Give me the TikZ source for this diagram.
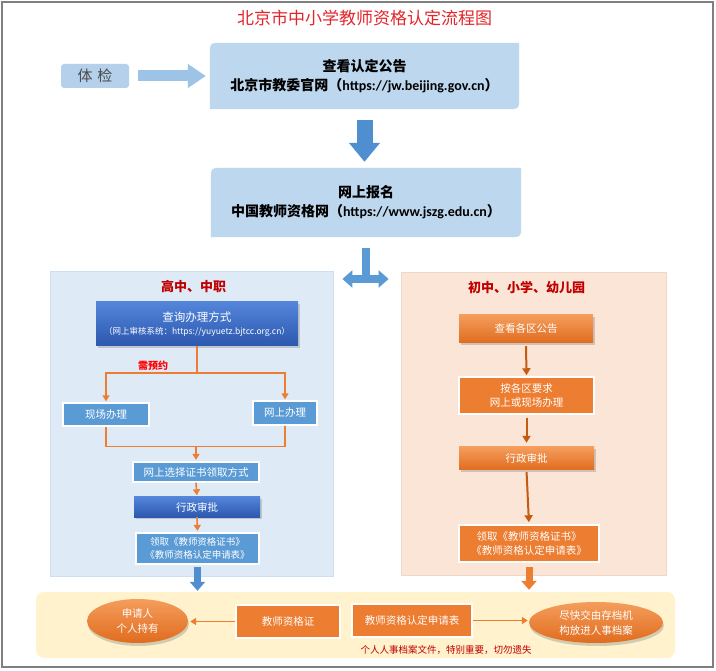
\documentclass[tikz,border=0pt]{standalone}
\usepackage{fontspec}
\setmainfont{Noto Sans CJK SC}
\newfontfamily\latinb{Carlito}
\usetikzlibrary{arrows.meta,shadows,shapes.geometric}
\definecolor{topfill}{HTML}{BDD7EE}
\definecolor{tjfill}{HTML}{B4D0EB}
\definecolor{lightarrow}{HTML}{9DC3E6}
\definecolor{midblue}{HTML}{5B9BD5}
\definecolor{arrowblue}{HTML}{4F8FD0}
\definecolor{darkblueA}{HTML}{5385DA}
\definecolor{darkblueB}{HTML}{2C58AE}
\definecolor{lpfill}{HTML}{DEEBF7}
\definecolor{lpline}{HTML}{CFDFF0}
\definecolor{rpfill}{HTML}{FBE5D6}
\definecolor{rpline}{HTML}{F0D8C8}
\definecolor{oran}{HTML}{ED7D31}
\definecolor{oranA}{HTML}{F59D5C}
\definecolor{oranB}{HTML}{E06C1E}
\definecolor{darkoran}{HTML}{C55A11}
\definecolor{bandfill}{HTML}{FFF2CC}
\definecolor{titlered}{HTML}{E3242B}
\definecolor{darkred}{HTML}{C00000}
\definecolor{framegray}{HTML}{7F7F7F}
\pgfdeclarelayer{bg}
\pgfsetlayers{bg,main}
\tikzset{
  every node/.style={inner sep=0pt, align=center},
  hdr/.style={font=\fontsize{17}{20}\selectfont, text=titlered},
  topbox/.style={font=\bfseries\fontsize{14}{19}\selectfont, text=black},
  tjbox/.style={fill=tjfill, rounded corners=3pt, text=black!70, font=\fontsize{15}{18}\selectfont},
  bigarrow/.style={line width=11pt, draw=lightarrow, -{Triangle[width=23pt,length=18pt]}},
  downarrow/.style={line width=16pt, draw=arrowblue, -{Triangle[width=30pt,length=19pt]}},
  lpanel/.style={fill=lpfill, draw=lpline, line width=0.8pt},
  rpanel/.style={fill=rpfill, draw=rpline, line width=0.8pt},
  ptitle/.style={font=\bfseries\fontsize{13}{15}\selectfont, text=darkred},
  shad/.style={drop shadow={shadow xshift=1.5pt, shadow yshift=-2pt, opacity=.35}},
  dbox/.style={top color=darkblueA, bottom color=darkblueB, text=white, shad, font=\fontsize{10.5}{13}\selectfont},
  mbox/.style={fill=midblue, draw=white, line width=1.3pt, text=white, font=\fontsize{10.5}{13}\selectfont},
  obox/.style={top color=oranA, bottom color=oranB, text=white, shad, font=\fontsize{10.5}{13}\selectfont},
  fbox/.style={fill=oran, draw=white, line width=1.5pt, text=white, font=\fontsize{10.5}{14}\selectfont},
  oline/.style={draw=oran, line width=1.6pt},
  oarrow/.style={oline, -{Triangle[width=7pt,length=6pt]}},
  darrow/.style={draw=darkoran, line width=2pt, -{Triangle[width=8pt,length=7pt]}},
  blockb/.style={draw=arrowblue, line width=7pt, -{Triangle[width=15pt,length=9pt]}},
  blocko/.style={draw=oran, line width=7pt, -{Triangle[width=15pt,length=9pt]}},
  ell/.style={ellipse, top color=oranA, bottom color=oranB, text=white, font=\fontsize{10.5}{15}\selectfont,
    drop shadow={shadow xshift=1pt, shadow yshift=-3pt, opacity=.35}},
  notetext/.style={text=darkred, font=\fontsize{9.5}{12}\selectfont},
  redtext/.style={text=red, font=\bfseries\fontsize{10}{12}\selectfont},
}
\begin{document}
\begin{tikzpicture}[x=1pt,y=-1pt]
\useasboundingbox (0,0) rectangle (716,671);
\begin{pgfonlayer}{bg}
\fill[white] (0,0) rectangle (716,671);
\end{pgfonlayer}
\draw[framegray, line width=2pt] (2,2) rectangle (713,667);

\node[hdr] (title) at (364.5,18) {北京市中小学教师资格认定流程图};

% ---- top part
\node[tjbox, minimum width=68pt, minimum height=24pt] (tj) at (95,76) {体\hspace{5pt}检};
\node[topbox, minimum width=309pt, minimum height=66pt] (b1) at (364.5,76)
  {查看认定公告\\北京市教委官网（{\latinb https://jw.beijing.gov.cn}）};
\node[topbox, minimum width=310pt, minimum height=69pt] (b2) at (366,202.5)
  {网上报名\\中国教师资格网（{\latinb https://www.jszg.edu.cn}）};
\begin{pgfonlayer}{bg}
\foreach \n in {b1,b2}
  \fill[topfill] (\n.south west) -- ([yshift=-13pt]\n.north west)
    .. controls (\n.north west) .. ([xshift=13pt]\n.north west)
    -- (\n.north east) -- ([yshift=13pt]\n.south east)
    .. controls (\n.south east) .. ([xshift=-13pt]\n.south east) -- cycle;
\end{pgfonlayer}
\draw[bigarrow, shorten <=9pt, shorten >=4pt] (tj.east) -- (b1.west |- tj.east);
\draw[downarrow, shorten <=11pt, shorten >=6pt] (b1.south) -- (b1.south |- b2.north);

% ---- panels
\node[lpanel, minimum width=282.5pt, minimum height=305pt] (lp) at (191.75,423.5) {};
\node[rpanel, minimum width=265pt, minimum height=303pt] (rp) at (533.5,423.5) {};
\node[ptitle] (lt) at (193.5,287) {高中、中职};
\node[ptitle] (rt) at (526.5,288) {初中、小学、幼儿园};

\coordinate (split) at (366,279);
\draw[draw=midblue, line width=8pt, shorten <=11pt] (b2.south) -- ([yshift=-4pt]split);
\draw[draw=midblue, line width=8pt, {Triangle[width=17pt,length=10pt]}-{Triangle[width=17pt,length=10pt]},
  shorten <=9pt, shorten >=12pt] (lp.east |- split) -- (rp.west |- split);

% ---- left panel
\node[dbox, minimum width=202pt, minimum height=44pt] (q1) at (197,324)
  {{\fontsize{11.5}{14}\selectfont 查询办理方式}\\{\fontsize{8.5}{11}\selectfont（网上审核系统：https://yuyuetz.bjtcc.org.cn）}};
\node[mbox, minimum width=86pt, minimum height=23pt] (xc) at (106,414.5) {现场办理};
\node[mbox, minimum width=64pt, minimum height=24pt] (ws) at (285,413) {网上办理};
\node[mbox, minimum width=126pt, minimum height=20pt] (sel) at (196,472) {网上选择证书领取方式};
\node[dbox, minimum width=126pt, minimum height=20pt] (xz1) at (197,507) {行政审批};
\node[mbox, minimum width=123pt, minimum height=31pt, font=\fontsize{9.5}{12.5}\selectfont] (lq1) at (197.5,548.5)
  {领取《教师资格证书》\\《教师资格认定申请表》};
\node[redtext] (yy) at (153,366) {需预约};

\coordinate (j1) at ([yshift=-27pt]q1.south);
\coordinate (j2) at ([yshift=15pt]sel.north);
\draw[oline] (q1.south) -- (j1);
\draw[oarrow, shorten >=1pt] (j1) -| (xc.north);
\draw[oarrow, shorten >=1pt] (j1) -| (ws.north);
\draw[oline] (xc.south) |- (j2) -| (ws.south);
\draw[oarrow, shorten >=1.5pt] (j2) -- (sel.north);
\draw[oarrow, shorten >=1.5pt] (sel.south) -- (xz1.north);
\draw[oarrow, shorten >=1.5pt] (xz1.south) -- (lq1.north);

% ---- right panel
\node[obox, minimum width=134pt, minimum height=28pt] (rg1) at (526,329) {查看各区公告};
\node[fbox, minimum width=135pt, minimum height=37pt] (rg2) at (526.5,395.5) {按各区要求\\网上或现场办理};
\node[obox, minimum width=135pt, minimum height=23pt] (rg3) at (526.5,458.5) {行政审批};
\node[fbox, minimum width=140pt, minimum height=37pt] (rg4) at (529,543.5)
  {领取《教师资格证书》\\《教师资格认定申请表》};
\draw[darrow, shorten <=3pt, shorten >=1pt] (rg1.south) -- (rg2.north);
\draw[darrow, shorten <=3pt, shorten >=4pt] (rg2.south) -- (rg3.north);
\draw[darrow, shorten <=2pt, shorten >=2pt] (rg3.south) -- (rg4.north);

% ---- bottom band
\node[fill=bandfill, rounded corners=8pt, minimum width=639pt, minimum height=66pt] (band) at (355.5,625) {};
\draw[blockb, shorten <=2pt, shorten >=1pt] (lq1.south) -- (lq1.south |- band.north);
\draw[blocko, shorten <=4pt, shorten >=2pt] (rg4.south) -- (rg4.south |- band.north);

\node[ell, minimum width=101pt, minimum height=44pt] (e1) at (137.5,621) {申请人\\个人持有};
\node[fbox, minimum width=104pt, minimum height=33pt] (zg) at (288,621.5) {教师资格证};
\node[fbox, minimum width=120pt, minimum height=33pt] (sq) at (412,620.5) {教师资格认定申请表};
\node[ell, minimum width=134pt, minimum height=41pt] (e2) at (596,622.5) {尽快交由存档机\\构放进人事档案};
\node[notetext] (nt) at (446,650) {个人人事档案文件，特别重要，切勿遗失};
\draw[oarrow, shorten >=2pt] (zg.west) -- (e1.east |- zg.west);
\draw[oarrow, shorten >=1pt] (sq.east) -- (e2.west |- sq.east);
\end{tikzpicture}
\end{document}
